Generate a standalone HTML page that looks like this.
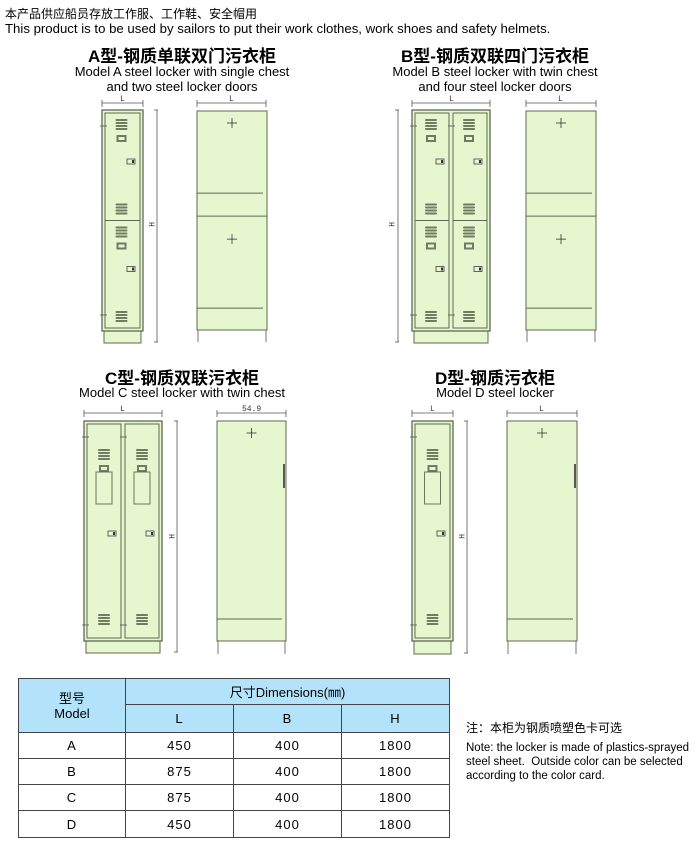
<!DOCTYPE html>
<html><head><meta charset="utf-8">
<style>
body{margin:0;background:#fff;width:700px;height:848px;overflow:hidden;position:relative;font-family:"Liberation Sans","Noto Sans CJK SC",sans-serif;color:#000}
.t{position:absolute;white-space:nowrap}
.tt{font-size:17px;font-weight:bold}
table{position:absolute;left:18px;top:678px;border-collapse:collapse;font-size:13px;letter-spacing:1px}
td{border:1px solid #444;text-align:center;padding:0;font-family:"Liberation Sans","Noto Sans CJK SC",sans-serif}
.h{background:#b3e3fa}
</style></head><body>
<div class="t" style="left:5px;top:5px;font-size:12px">本产品供应船员存放工作服、工作鞋、安全帽用</div>
<div class="t" style="left:5px;top:21px;font-size:13.2px">This product is to be used by sailors to put their work clothes, work shoes and safety helmets.</div>

<div class="t tt" style="left:0;width:364px;text-align:center;top:42px">A型-钢质单联双门污衣柜</div>
<div class="t" style="left:0;width:364px;text-align:center;top:64px;font-size:13px;line-height:15px">Model A steel locker with single chest<br>and two steel locker doors</div>
<div class="t tt" style="left:313px;width:364px;text-align:center;top:42px">B型-钢质双联四门污衣柜</div>
<div class="t" style="left:313px;width:364px;text-align:center;top:64px;font-size:13px;line-height:15px">Model B steel locker with twin chest<br>and four steel locker doors</div>
<div class="t tt" style="left:0;width:364px;text-align:center;top:364px">C型-钢质双联污衣柜</div>
<div class="t" style="left:0;width:364px;text-align:center;top:385px;font-size:13px">Model C steel locker with twin chest</div>
<div class="t tt" style="left:313px;width:364px;text-align:center;top:364px">D型-钢质污衣柜</div>
<div class="t" style="left:313px;width:364px;text-align:center;top:385px;font-size:13px">Model D steel locker</div>

<svg id="s" width="700" height="848" style="position:absolute;left:0;top:0" xmlns="http://www.w3.org/2000/svg">
<g font-family="Liberation Mono,monospace" font-size="8" fill="#333">
<text x="120" y="101">L</text><text x="229" y="101">L</text>
<text x="449" y="101">L</text><text x="558" y="101">L</text>
<text x="120" y="411">L</text><text x="242" y="411">54.9</text>
<text x="430" y="411">L</text><text x="539" y="411">L</text>
<text x="150" y="227" transform="rotate(90 152 224)">H</text>
<text x="390" y="227" transform="rotate(90 392 224)">H</text>
<text x="170" y="539" transform="rotate(90 172 536)">H</text>
<text x="460" y="539" transform="rotate(90 462 536)">H</text>
</g>
</svg>

<table>
<tr style="height:26px"><td class="h" rowspan="2" style="width:106px;font-size:13px;line-height:15px;letter-spacing:0">型号<br>Model</td><td class="h" colspan="3" style="font-size:13px;letter-spacing:0">尺寸Dimensions(㎜)</td></tr>
<tr style="height:28px"><td class="h" style="width:107px">L</td><td class="h" style="width:107px">B</td><td class="h" style="width:107px">H</td></tr>
<tr style="height:26px"><td>A</td><td>450</td><td>400</td><td>1800</td></tr>
<tr style="height:26px"><td>B</td><td>875</td><td>400</td><td>1800</td></tr>
<tr style="height:26px"><td>C</td><td>875</td><td>400</td><td>1800</td></tr>
<tr style="height:27px"><td>D</td><td>450</td><td>400</td><td>1800</td></tr>
</table>
<div class="t" style="left:466px;top:719px;font-size:12px">注：本柜为钢质喷塑色卡可选</div>
<div class="t" style="left:466px;top:741px;font-size:11.5px;line-height:14px">Note: the locker is made of plastics-sprayed<br>steel sheet.&nbsp; Outside color can be selected<br>according to the color card.</div>

<script>
var S=document.getElementById('s'),o='';
var F='#e6f6cf',L='#5e6a52';
function r(x,y,w,h,f,sw){o+='<rect x="'+x+'" y="'+y+'" width="'+w+'" height="'+h+'" fill="'+(f||'none')+'" stroke="'+L+'" stroke-width="'+(sw||1)+'"/>';}
function l(x1,y1,x2,y2,c,sw){o+='<line x1="'+x1+'" y1="'+y1+'" x2="'+x2+'" y2="'+y2+'" stroke="'+(c||'#555')+'" stroke-width="'+(sw||0.8)+'"/>';}
function vent(cx,y){for(var i=0;i<4;i++)o+='<rect x="'+(cx-6)+'" y="'+(y+i*3)+'" width="12" height="2" rx="1" fill="#6f7c60"/>';}
function handle(cx,y){o+='<rect x="'+(cx-5)+'" y="'+y+'" width="10" height="7" fill="#6f7c60"/><rect x="'+(cx-3)+'" y="'+(y+2)+'" width="6" height="3" fill="#e6f6cf"/>';}
function lock(x,y){o+='<rect x="'+x+'" y="'+y+'" width="8" height="5" fill="none" stroke="#555" stroke-width="0.9"/><rect x="'+(x+5)+'" y="'+(y+1)+'" width="2" height="3" fill="#333"/>';}
function dimH(x,x2,y){l(x,y,x2,y,'#555');l(x,y-3,x,y+4);l(x2,y-3,x2,y+4);}
function dimV(x,y,y2){l(x,y,x,y2,'#555');l(x-3,y,x+1,y);l(x-3,y2,x+1,y2);}
function plus(cx,cy){l(cx-5,cy,cx+5,cy,'#333');l(cx,cy-5,cx,cy+5,'#333');}
function front2(x,y,w,h,ph,cols,split){
 r(x+2,y+h,w-4,ph,F);r(x,y,w,h,F,1.3);
 var cw=(w-6-(cols-1)*4)/cols;
 for(var c=0;c<cols;c++){var dx=x+3+c*(cw+4);
  for(var k=0;k<2;k++){var dy=y+3+k*((h-6)/2),dh=(h-6)/2;
   r(dx,dy,cw,dh,null,1);
   var cx=dx+cw/2-1;
   vent(cx,dy+6);handle(cx,dy+22);lock(dx+cw-13,dy+46);vent(cx,dy+dh-17);
  }
  l(dx-5,y+16,dx+2,y+16,'#555');l(dx-5,y+h-16,dx+2,y+h-16,'#555');
 }
}
function front1(x,y,w,h,ph,cols){
 r(x+2,y+h,w-4,ph,F);r(x,y,w,h,F,1.3);
 var cw=(w-6-(cols-1)*4)/cols;
 for(var c=0;c<cols;c++){var dx=x+3+c*(cw+4),dy=y+3,dh=h-6;
  r(dx,dy,cw,dh,null,1);var cx=dx+cw/2;
  vent(cx,dy+25);handle(cx,dy+41);r(cx-8,dy+48,16,32,null,0.9);
  lock(dx+cw-13,dy+107);vent(cx,dy+dh-24);
  l(dx-5,y+16,dx+2,y+16,'#555');l(dx-5,y+h-16,dx+2,y+h-16,'#555');
 }
}
function side(x,y,w,h,ft,split,bar){
 r(x,y,w,h,F,1);
 l(x+1,y+h,x+1,y+h+ft,'#555');l(x+w-1,y+h,x+w-1,y+h+ft,'#555');
 if(split){var s=y+h*0.48;l(x,s,x+w,s,L,1);l(x,y+h*0.375,x+w-4,y+h*0.375,L,1);l(x,y+h*0.9,x+w-4,y+h*0.9,L,1);plus(x+w/2,y+12);plus(x+w/2,s+23);}
 else{l(x,y+h*0.9,x+w-4,y+h*0.9,L,1);plus(x+w/2,y+12);}
 if(bar)l(x+w-2,y+43,x+w-2,y+67,'#333',1.6);
}
dimH(102,143,103);front2(102,110,41,221,12,1,true);dimV(157,110,342);
dimH(197,266,103);side(197,111,70,219,12,true);
dimH(412,490,103);front2(412,110,78,221,12,2,true);dimV(398,110,342);
dimH(526,596,103);side(526,111,70,219,12,true);
dimH(84,162,413);front1(84,421,78,220,12,2);dimV(177,421,652);
dimH(217,286,413);side(217,421,69,220,13,false,true);
dimH(412,453,413);front1(412,421,41,220,13,1);dimV(467,421,653);
dimH(507,577,413);side(507,421,70,220,13,false,true);
S.insertAdjacentHTML('afterbegin',o);
</script>
</body></html>
